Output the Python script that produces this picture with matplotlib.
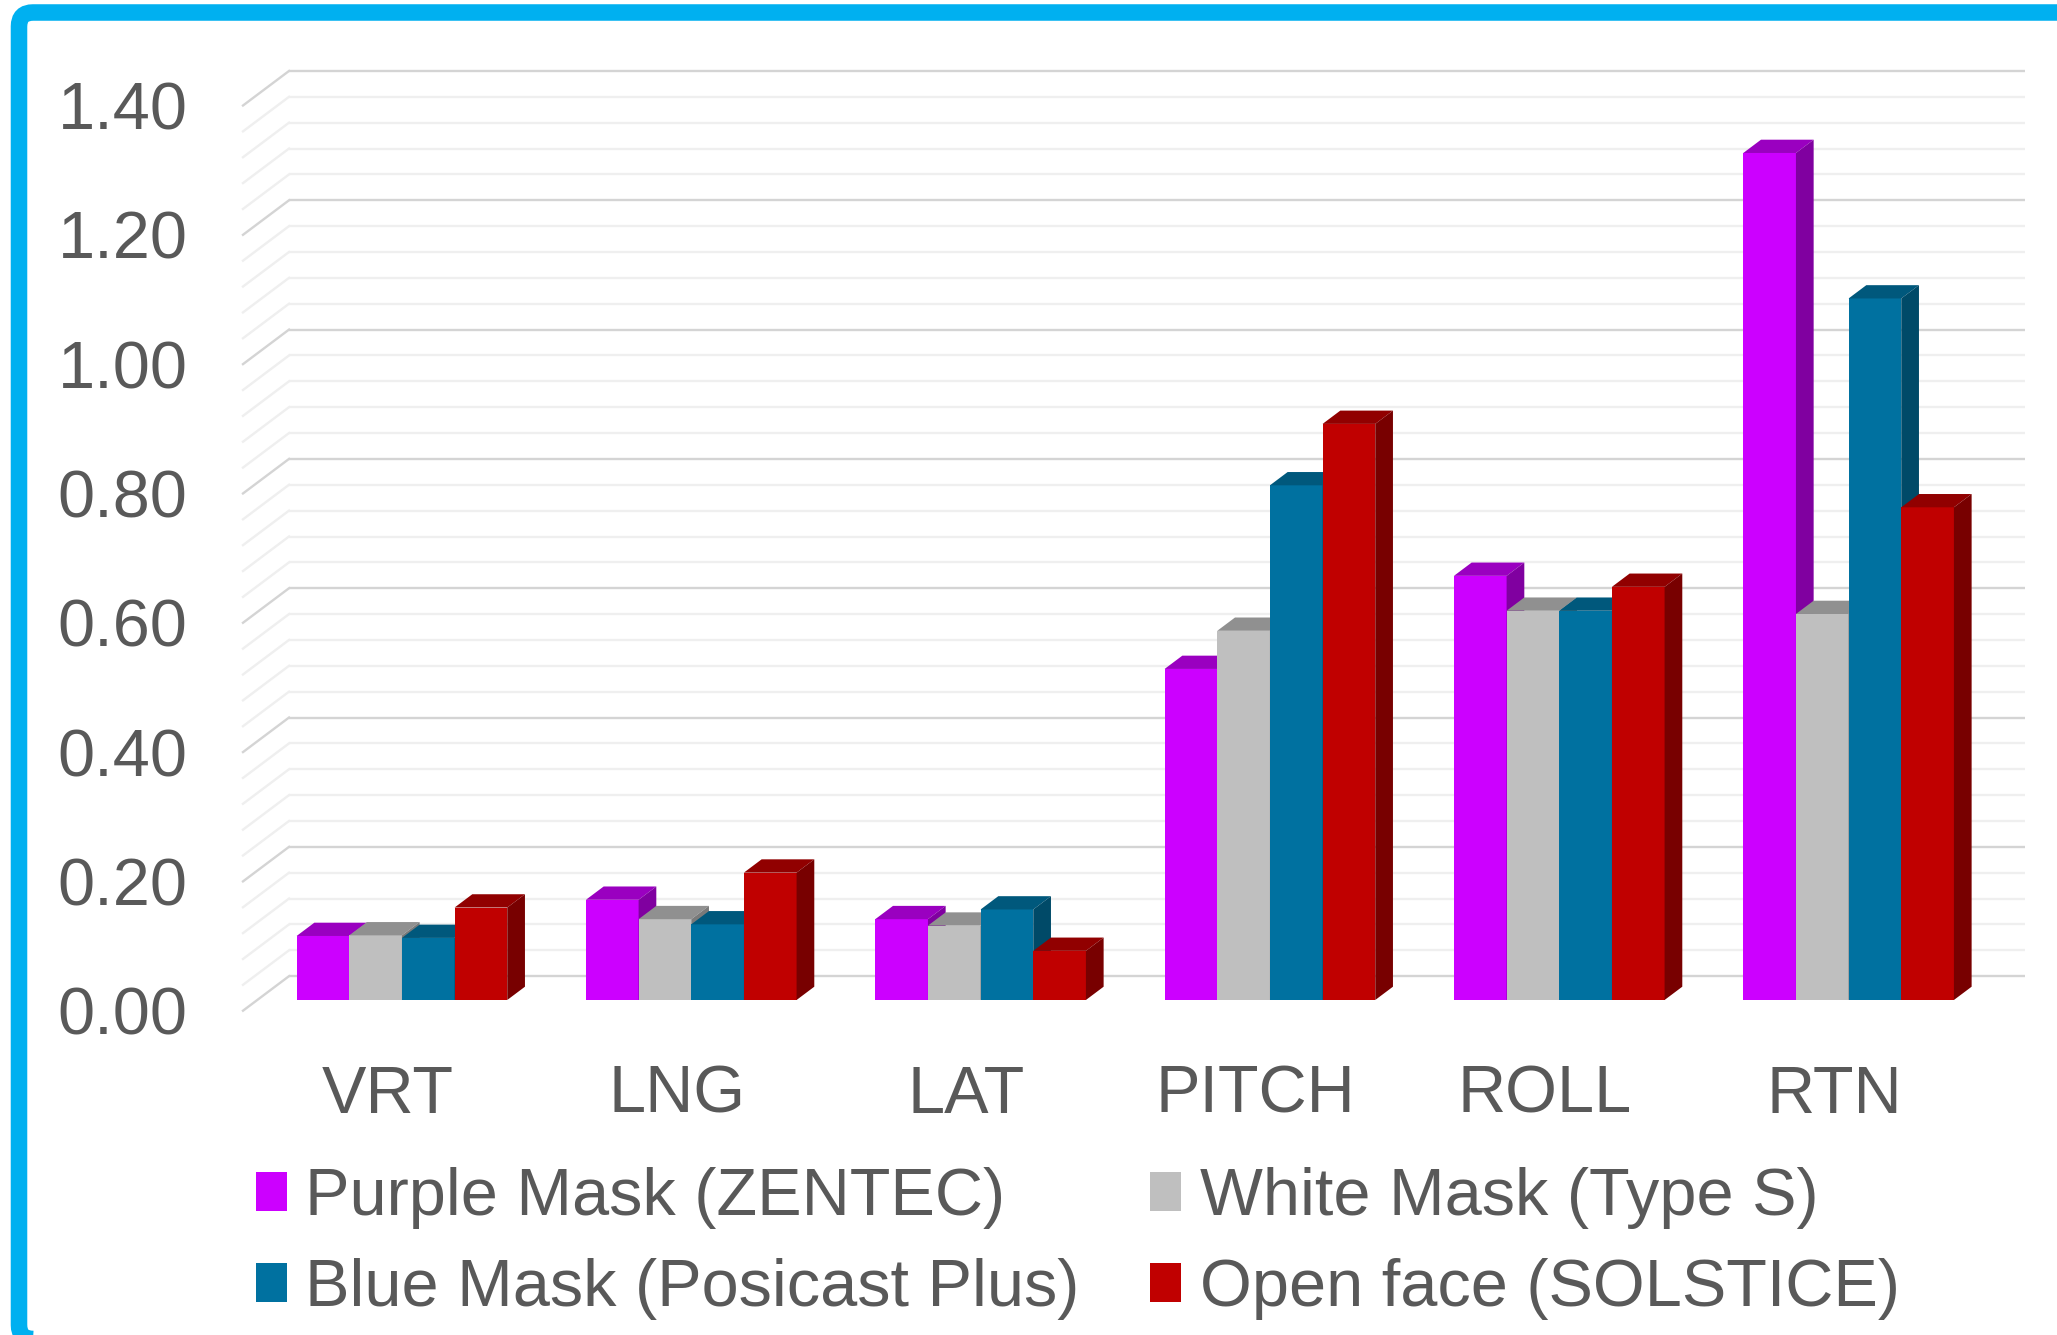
import matplotlib
matplotlib.use("Agg")
import matplotlib.pyplot as plt
import numpy as np
from matplotlib.patches import Polygon, Patch, FancyBboxPatch
from matplotlib.transforms import IdentityTransform

plt.rcParams['font.family'] = ['Liberation Sans', 'DejaVu Sans']

# data
categories = ['VRT', 'LNG', 'LAT', 'PITCH', 'ROLL', 'RTN']
series_names = ['Purple Mask (ZENTEC)', 'White Mask (Type S)',
                'Blue Mask (Posicast Plus)', 'Open face (SOLSTICE)']
purple_mask = [0.099, 0.155, 0.125, 0.512, 0.656, 1.310]
white_mask = [0.100, 0.125, 0.115, 0.571, 0.602, 0.597]
blue_mask = [0.096, 0.117, 0.140, 0.796, 0.602, 1.085]
open_face = [0.143, 0.197, 0.076, 0.891, 0.639, 0.762]
y_ticks = [0.0, 0.2, 0.4, 0.6, 0.8, 1.0, 1.2, 1.4]

series = [purple_mask, white_mask, blue_mask, open_face]
front_colors = ['#CC00FF', '#BFBFBF', '#0071A0', '#C00000']
top_colors = ['#9A00C0', '#909090', '#00587C', '#910000']
side_colors = ['#8000A0', '#7A7A7A', '#004A68', '#780000']
text_color = '#595959'

W, H = 2057, 1335
fig = plt.figure(figsize=(W / 100, H / 100), dpi=100)
# axes = front plane of the 3d box
ax = fig.add_axes([243 / W, (H - 1010.7) / H, 1736 / W, 905.2 / H])
ax.set_xlim(0, len(categories))
ax.set_ylim(0, 1.4)
for s in ax.spines.values():
    s.set_visible(False)

# depth offset of the back wall (data units)
DX = 0.159
DY = 0.0534
z_front, z_back = 0.31, 0.695
bar_w = 0.182
group_off = (1 - bar_w * len(series)) / 2

# grid: back wall + left side wall
levels = np.round(np.arange(0, 1.4001, 0.04), 2)
for k, v in enumerate(levels):
    major = k % 5 == 0
    c = '#D4D4D4' if major else '#EFEFEF'
    ax.plot([DX, len(categories) + DX], [v + DY, v + DY], color=c, lw=1.7,
            zorder=1, clip_on=False, solid_capstyle='butt')
    ax.plot([0, DX], [v, v + DY], color=c, lw=1.7, zorder=1, clip_on=False)

# 3d-looking bars
xs = np.arange(len(categories))
for i, vals in enumerate(series):
    x0 = xs + group_off + i * bar_w
    ax.bar(x0 + z_front * DX, vals, width=bar_w, bottom=z_front * DY,
           align='edge', color=front_colors[i], zorder=3 + i, clip_on=False)
    for xl, v in zip(x0, vals):
        xr = xl + bar_w
        top = [(xl + z_front * DX, v + z_front * DY), (xr + z_front * DX, v + z_front * DY),
               (xr + z_back * DX, v + z_back * DY), (xl + z_back * DX, v + z_back * DY)]
        side = [(xr + z_front * DX, z_front * DY), (xr + z_back * DX, z_back * DY),
                (xr + z_back * DX, v + z_back * DY), (xr + z_front * DX, v + z_front * DY)]
        ax.add_patch(Polygon(top, closed=True, facecolor=top_colors[i],
                             edgecolor='none', zorder=3 + i, clip_on=False))
        ax.add_patch(Polygon(side, closed=True, facecolor=side_colors[i],
                             edgecolor='none', zorder=3 + i, clip_on=False))

ax.set_yticks(y_ticks)
ax.set_yticklabels([f'{t:.2f}' for t in y_ticks])
ax.set_xticks(xs + 0.5)
ax.set_xticklabels(categories)
ax.tick_params(axis='y', length=0, pad=40, labelsize=48, labelcolor=text_color)
ax.tick_params(axis='x', length=0, pad=39, labelsize=48, labelcolor=text_color)

order = [0, 2, 1, 3]
handles = [Patch(facecolor=front_colors[i], edgecolor='none') for i in order]
fig.legend(handles, [series_names[i] for i in order], ncol=2,
           loc='upper left', bbox_to_anchor=(256 / W, 1 - 1167 / H),
           frameon=False, fontsize=48, labelcolor=text_color,
           handlelength=0.46, handleheight=0.52, handletextpad=0.28,
           columnspacing=1.06, labelspacing=0.44, borderpad=0, borderaxespad=0)

# cyan frame
frame = FancyBboxPatch((19, -4), W + 20, 1326.5,
                       boxstyle='round,pad=0,rounding_size=14',
                       transform=IdentityTransform(), fill=False,
                       edgecolor='#00B0F0', linewidth=11.9)
fig.add_artist(frame)

fig.savefig('out.png', dpi=100)
